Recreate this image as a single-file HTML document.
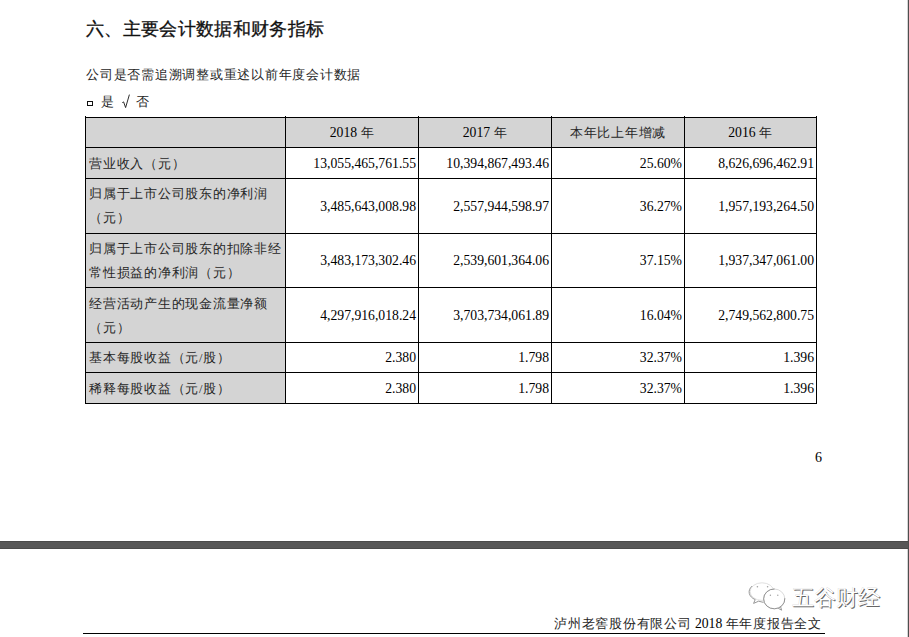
<!DOCTYPE html>
<html lang="en">
<head>
<meta charset="utf-8">
<style>
html,body{margin:0;padding:0;background:#fff;}
body{width:909px;height:637px;position:relative;overflow:hidden;font-family:"Liberation Serif",serif;color:#000;}
.a{position:absolute;white-space:nowrap;}
.h{font-family:"Liberation Sans",sans-serif;font-size:18.2px;letter-spacing:0.33px;-webkit-text-stroke:0.3px #111;left:86px;top:16px;color:#111;}
.t{font-size:12.5px;letter-spacing:0.75px;color:#262626;}
.hl{position:absolute;height:1px;background:#000;left:85px;width:732px;}
.vl{position:absolute;width:1px;background:#000;top:116px;height:288px;}
.g{position:absolute;background:#d4d4d4;}
.n{position:absolute;font-size:13.7px;text-align:right;white-space:nowrap;}
.d{font-size:13.7px;letter-spacing:0;color:#000;}
.c{position:absolute;font-size:12.5px;letter-spacing:0.75px;color:#262626;text-align:center;white-space:nowrap;}
.l{position:absolute;color:#262626;font-size:12.5px;letter-spacing:0.75px;left:89px;white-space:nowrap;line-height:23.5px;}
</style>
</head>
<body>
<div class="a h">六、主要会计数据和财务指标</div>
<div class="a t" style="left:86px;top:67px;">公司是否需追溯调整或重述以前年度会计数据</div>
<div class="a" style="left:86.5px;top:100.5px;width:4.5px;height:3.5px;border:1.5px solid #111;"></div>
<div class="a t" style="left:101px;top:94px;">是</div>
<svg class="a" style="left:120px;top:93px;" width="12" height="17" viewBox="0 0 12 17"><path d="M2.3 9.6 L3.6 8.9 L5.6 14.6 L9.4 1.6" fill="none" stroke="#222" stroke-width="0.95"/></svg>
<div class="a t" style="left:136px;top:94px;">否</div>

<!-- fills -->
<div class="g" style="left:86px;top:118px;width:730px;height:29px;"></div>
<div class="g" style="left:86px;top:148px;width:199px;height:255px;"></div>

<!-- horizontal lines -->
<div class="hl" style="top:117px"></div>
<div class="hl" style="top:147px"></div>
<div class="hl" style="top:178px"></div>
<div class="hl" style="top:233px"></div>
<div class="hl" style="top:287px"></div>
<div class="hl" style="top:342px"></div>
<div class="hl" style="top:372px"></div>
<div class="hl" style="top:403px"></div>
<!-- vertical lines -->
<div class="vl" style="left:85px"></div>
<div class="vl" style="left:285px"></div>
<div class="vl" style="left:418px"></div>
<div class="vl" style="left:551px"></div>
<div class="vl" style="left:684px"></div>
<div class="vl" style="left:816px"></div>

<!-- header -->
<div class="c" style="left:286px;width:132px;top:125px;"><span class="d">2018 </span>年</div>
<div class="c" style="left:419px;width:132px;top:125px;"><span class="d">2017 </span>年</div>
<div class="c" style="left:552px;width:132px;top:125px;">本年比上年增减</div>
<div class="c" style="left:685px;width:131px;top:125px;"><span class="d">2016 </span>年</div>

<!-- labels -->
<div class="l" style="top:153px;">营业收入（元）</div>
<div class="l" style="top:183px;">归属于上市公司股东的净利润<br>（元）</div>
<div class="l" style="top:238px;">归属于上市公司股东的扣除非经<br>常性损益的净利润（元）</div>
<div class="l" style="top:293px;">经营活动产生的现金流量净额<br>（元）</div>
<div class="l" style="top:347px;">基本每股收益（元/股）</div>
<div class="l" style="top:378px;">稀释每股收益（元/股）</div>

<!-- numbers row1 -->
<div class="n" style="left:286px;width:130px;top:156px;">13,055,465,761.55</div>
<div class="n" style="left:419px;width:130px;top:156px;">10,394,867,493.46</div>
<div class="n" style="left:552px;width:130px;top:156px;">25.60%</div>
<div class="n" style="left:685px;width:129px;top:156px;">8,626,696,462.91</div>
<!-- row2 -->
<div class="n" style="left:286px;width:130px;top:199px;">3,485,643,008.98</div>
<div class="n" style="left:419px;width:130px;top:199px;">2,557,944,598.97</div>
<div class="n" style="left:552px;width:130px;top:199px;">36.27%</div>
<div class="n" style="left:685px;width:129px;top:199px;">1,957,193,264.50</div>
<!-- row3 -->
<div class="n" style="left:286px;width:130px;top:253px;">3,483,173,302.46</div>
<div class="n" style="left:419px;width:130px;top:253px;">2,539,601,364.06</div>
<div class="n" style="left:552px;width:130px;top:253px;">37.15%</div>
<div class="n" style="left:685px;width:129px;top:253px;">1,937,347,061.00</div>
<!-- row4 -->
<div class="n" style="left:286px;width:130px;top:308px;">4,297,916,018.24</div>
<div class="n" style="left:419px;width:130px;top:308px;">3,703,734,061.89</div>
<div class="n" style="left:552px;width:130px;top:308px;">16.04%</div>
<div class="n" style="left:685px;width:129px;top:308px;">2,749,562,800.75</div>
<!-- row5 -->
<div class="n" style="left:286px;width:130px;top:350px;">2.380</div>
<div class="n" style="left:419px;width:130px;top:350px;">1.798</div>
<div class="n" style="left:552px;width:130px;top:350px;">32.37%</div>
<div class="n" style="left:685px;width:129px;top:350px;">1.396</div>
<!-- row6 -->
<div class="n" style="left:286px;width:130px;top:381px;">2.380</div>
<div class="n" style="left:419px;width:130px;top:381px;">1.798</div>
<div class="n" style="left:552px;width:130px;top:381px;">32.37%</div>
<div class="n" style="left:685px;width:129px;top:381px;">1.396</div>

<div class="a" style="left:815px;top:450px;font-size:14px;">6</div>

<!-- band -->
<div class="a" style="left:0;top:541px;width:908px;height:6px;z-index:1;background:#575757;border-top:1px solid #4a4a4a;border-bottom:1px solid #4a4a4a;"></div>
<div class="a" style="left:907px;top:0;width:1px;height:637px;background:#d4d4d4;"></div><div class="a" style="left:908px;top:0;width:1px;height:637px;background:#4e4e4e;"></div>

<!-- watermark -->
<svg class="a" style="left:745px;top:578px;" width="45" height="36" viewBox="745 578 45 36">
<ellipse cx="762" cy="591.6" rx="11.9" ry="8.8" fill="#fff" stroke="#d8d8d8" stroke-width="0.8"/>
<path d="M752.2 586 A11.9 8.8 0 0 0 755.2 599.6 L753.6 603.4 L758.6 601.2 L763.5 602.4" fill="none" stroke="#8c8c8c" stroke-width="0.9"/>
<ellipse cx="774.2" cy="598.9" rx="10.6" ry="9.9" fill="#fff" stroke="#d0d0d0" stroke-width="0.8"/>
<path d="M774.6 589 A10.6 9.9 0 1 0 784.8 598.2" fill="none" stroke="#8c8c8c" stroke-width="0.9"/>
<path d="M778.3 608.3 L781.6 610.2 L780.6 606.8" fill="none" stroke="#8c8c8c" stroke-width="0.9"/>
<g fill="#a0a0a0"><circle cx="757.4" cy="586.8" r="0.8"/><circle cx="767.6" cy="586.8" r="0.8"/><circle cx="770.4" cy="595.2" r="0.7"/><circle cx="777.8" cy="595.2" r="0.7"/></g>
</svg>
<div class="a" style="left:792px;top:583px;font-family:'Liberation Sans',sans-serif;font-size:21.5px;color:#fff;text-shadow:0.6px 0.6px 0 #666, -0.3px -0.3px 0 #aaa;">五谷财经</div>

<!-- footer -->
<div class="a t" style="left:554px;top:616px;">泸州老窖股份有限公司<span class="d"> 2018 </span>年年度报告全文</div>
<div class="a" style="left:83px;top:633px;width:742px;height:1px;background:#000;"></div>
</body>
</html>
